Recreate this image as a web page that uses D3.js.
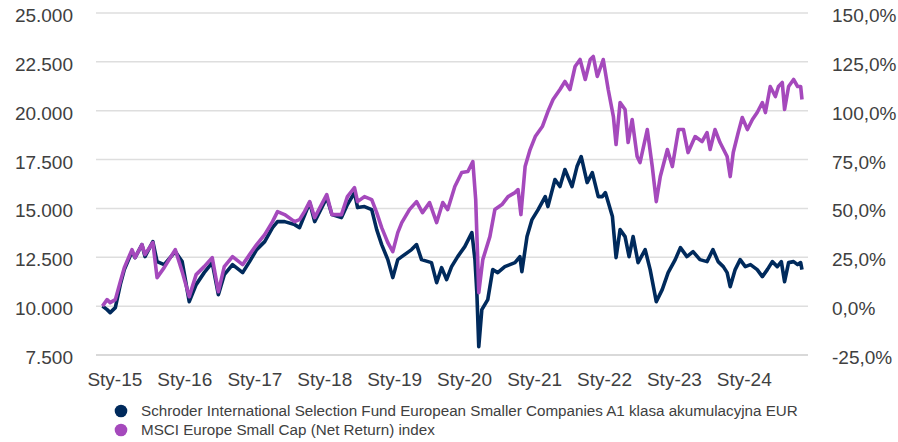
<!DOCTYPE html>
<html>
<head>
<meta charset="utf-8">
<script src="https://cdn.jsdelivr.net/npm/d3@7"></script>
<style>
  body { margin: 0; background: #fff; }
  svg { display: block; }
</style>
</head>
<body>
<div id="chart"></div>
<script>
// fund: Schroder ISF European Smaller Companies A1 acc EUR (growth of 10.000)
const fundDates = [
  "2014-10-31","2014-11-24","2014-12-10","2015-01-06","2015-02-01","2015-02-22","2015-04-03","2015-04-19",
  "2015-05-25","2015-06-10","2015-07-21","2015-08-12","2015-09-18","2015-11-15","2015-12-21","2016-01-27",
  "2016-03-03","2016-04-14","2016-05-26","2016-06-27","2016-07-28","2016-09-09","2016-11-01","2016-12-07",
  "2017-01-13","2017-02-24","2017-04-06","2017-05-02","2017-06-08","2017-07-30","2017-08-25","2017-10-17",
  "2017-11-12","2018-01-14","2018-02-10","2018-04-01","2018-05-02","2018-06-08","2018-06-24","2018-07-30",
  "2018-09-06","2018-10-02","2018-10-28","2018-11-29","2018-12-25","2019-01-20","2019-02-10","2019-04-02",
  "2019-04-28","2019-05-24","2019-07-15","2019-08-11","2019-09-06","2019-10-02","2019-10-28","2019-11-29",
  "2020-01-05","2020-02-11","2020-02-27","2020-03-08","2020-03-18","2020-04-03","2020-05-04","2020-05-30",
  "2020-06-25","2020-08-01","2020-09-23","2020-10-19","2020-10-29","2020-11-25","2020-12-21","2021-01-22",
  "2021-02-28","2021-03-14","2021-04-20","2021-05-16","2021-06-11","2021-07-18","2021-08-13","2021-09-04",
  "2021-10-05","2021-11-01","2021-12-02","2021-12-23","2022-01-08","2022-02-14","2022-03-05","2022-03-26",
  "2022-04-21","2022-05-12","2022-06-02","2022-06-28","2022-08-04","2022-08-30","2022-10-01","2022-11-01",
  "2022-12-02","2023-01-08","2023-02-04","2023-03-10","2023-04-11","2023-05-17","2023-06-23","2023-07-24",
  "2023-08-20","2023-09-16","2023-10-06","2023-10-22","2023-11-17","2023-12-13","2024-01-09","2024-02-05",
  "2024-03-11","2024-04-07","2024-05-03","2024-05-29","2024-06-24","2024-07-15","2024-08-01","2024-08-22",
  "2024-09-17","2024-10-08","2024-10-24","2024-10-31"
];
const fundValues = [
  10000, 9821, 9667, 9923, 11101, 11869, 12790, 12483,
  13149, 12534, 13302, 12278, 12125, 12790, 12278, 10230,
  11101, 11715, 12227, 10589, 11613, 12125, 11715, 12278,
  12893, 13302, 14019, 14326, 14326, 14173, 14019, 15299,
  14326, 15555, 14685, 14531, 15197, 15811, 15043, 15094,
  14941, 13917, 13149, 12381, 11459, 12381, 12534, 12893,
  13149, 12381, 12227, 11203, 11971, 11357, 12022, 12534,
  13046, 13763, 12381, 10691, 7926, 9821, 10333, 11869,
  11715, 12022, 12227, 12534, 11766, 13558, 14429, 14941,
  15606, 15094, 16477, 16118, 16989, 16118, 17142, 17654,
  16323, 16835, 15606, 15606, 15810, 14583, 12483, 13917,
  13558, 12534, 13558, 12227, 12893, 11869, 10230, 10845,
  11715, 12381, 12995, 12534, 12790, 12381, 12278, 12893,
  12278, 12022, 11715, 10998, 11869, 12381, 12022, 12125,
  11869, 11510, 11869, 12278, 12022, 12278, 11254, 12227,
  12278, 12125, 12227, 11869
];

// benchmark: MSCI Europe Small Cap (Net Return)
const indexDates = [
  "2014-10-31","2014-11-24","2014-12-10","2015-01-06","2015-02-01","2015-02-22","2015-04-03","2015-04-19",
  "2015-05-25","2015-06-10","2015-07-21","2015-08-12","2015-09-18","2015-11-15","2015-12-21","2016-01-27",
  "2016-03-03","2016-04-14","2016-05-26","2016-06-27","2016-07-28","2016-09-09","2016-11-01","2016-12-07",
  "2017-01-13","2017-02-24","2017-04-06","2017-05-02","2017-06-08","2017-07-30","2017-08-25","2017-09-20",
  "2017-10-17","2017-11-12","2018-01-14","2018-02-10","2018-04-01","2018-05-02","2018-06-08","2018-06-24",
  "2018-07-30","2018-09-06","2018-10-02","2018-10-28","2018-11-29","2018-12-25","2019-01-20","2019-02-10",
  "2019-03-22","2019-04-28","2019-05-29","2019-07-05","2019-08-11","2019-09-12","2019-10-08","2019-11-14",
  "2019-12-20","2020-01-21","2020-02-16","2020-03-02","2020-03-18","2020-04-08","2020-05-15","2020-06-10",
  "2020-07-17","2020-08-18","2020-09-23","2020-10-09","2020-10-24","2020-11-15","2020-12-11","2021-01-07",
  "2021-02-13","2021-03-14","2021-04-10","2021-05-16","2021-06-11","2021-07-07","2021-08-03","2021-08-29",
  "2021-09-25","2021-10-21","2021-11-06","2021-11-27","2021-12-28","2022-01-23","2022-02-19","2022-03-05",
  "2022-03-26","2022-04-21","2022-05-07","2022-05-28","2022-06-23","2022-07-08","2022-08-15","2022-09-10",
  "2022-10-01","2022-10-22","2022-11-28","2022-12-24","2023-01-25","2023-02-20","2023-03-16","2023-04-22",
  "2023-05-28","2023-06-23","2023-07-09","2023-08-04","2023-08-30","2023-10-06","2023-10-22","2023-11-07",
  "2023-12-03","2023-12-24","2024-01-20","2024-02-15","2024-03-11","2024-04-07","2024-04-23","2024-05-18",
  "2024-06-14","2024-06-30","2024-07-20","2024-08-01","2024-08-22","2024-09-17","2024-10-08","2024-10-24",
  "2024-10-31"
];
const indexValues = [
  10000, 10333, 10179, 10333, 11254, 11971, 12893, 12483,
  13149, 12637, 13251, 11459, 11971, 12893, 11766, 10486,
  11613, 12022, 12483, 10742, 12022, 12534, 12125, 12637,
  13149, 13661, 14326, 14838, 14685, 14326, 14429, 14838,
  15350, 14531, 15709, 14685, 14685, 15606, 16067, 15350,
  15606, 15453, 14787, 14019, 13251, 12790, 13763, 14275,
  14941, 15350, 14787, 15299, 14275, 15299, 14941, 16118,
  16835, 16886, 17398, 15453, 10691, 12381, 13558, 14941,
  15197, 15606, 15811, 15965, 14685, 17142, 18013, 18678,
  19190, 19958, 20573, 21085, 21494, 21085, 22262, 22621,
  21597, 22621, 22774, 21750, 22621, 21085, 19702, 18269,
  20419, 20061, 18371, 19549, 17654, 17347, 19037, 17142,
  15350, 16630, 18013, 17142, 19037, 19037, 17859, 18678,
  18422, 18883, 18013, 19037, 18371, 17654, 16630, 17859,
  18883, 19651, 19037, 19549, 19907, 20419, 19907, 21238,
  20726, 21238, 21443, 20061, 21238, 21597, 21238, 21238,
  20573
];

const leftTicks = [7500, 10000, 12500, 15000, 17500, 20000, 22500, 25000];
const rightTicks = [-0.25, 0, 0.25, 0.5, 0.75, 1.0, 1.25, 1.5];
const yearTicks = [2015, 2016, 2017, 2018, 2019, 2020, 2021, 2022, 2023, 2024];

const seriesNames = [
  "Schroder International Selection Fund European Smaller Companies A1 klasa akumulacyjna EUR",
  "MSCI Europe Small Cap (Net Return) index"
];
const seriesColors = ["#002a5c", "#a549bc"];

const width = 898, height = 442;
const plotLeft = 96, plotRight = 808, plotTop = 13, plotBottom = 355;
const textColor = "#404040";
const fontFamily = "'Liberation Sans', Arial, sans-serif";

const parse = d3.timeParse("%Y-%m-%d");
const fund = fundDates.map((d, i) => ({ date: parse(d), value: fundValues[i] }));
const bench = indexDates.map((d, i) => ({ date: parse(d), value: indexValues[i] }));

const locale = d3.formatLocale({ decimal: ",", thousands: ".", grouping: [3], currency: ["", " €"], minus: "-" });

const svg = d3.select("#chart")
  .append("svg")
  .attr("width", width)
  .attr("height", height);

const x = d3.scaleTime()
  .domain([parse("2014-10-31"), parse("2024-10-31")])
  .range([102.5, 802]);

const y = d3.scaleLinear()
  .domain([7500, 25000])
  .range([plotBottom, plotTop]);

const yRight = d3.scaleLinear()
  .domain([-0.25, 1.5])
  .range([plotBottom, plotTop]);

// grid
svg.append("g")
  .selectAll("line")
  .data(leftTicks)
  .enter()
  .append("line")
  .attr("x1", plotLeft)
  .attr("x2", plotRight)
  .attr("y1", d => y(d))
  .attr("y2", d => y(d))
  .attr("stroke", d => d === 7500 ? "#cccccc" : "#dedede")
  .attr("stroke-width", 1.5);

// left axis
const leftAxis = svg.append("g")
  .attr("transform", `translate(${plotLeft},0)`)
  .call(d3.axisLeft(y).tickValues(leftTicks).tickSize(0).tickPadding(23).tickFormat(locale.format(",.0f")));

// right axis
const rightAxis = svg.append("g")
  .attr("transform", `translate(${plotRight},0)`)
  .call(d3.axisRight(yRight).tickValues(rightTicks).tickSize(0).tickPadding(24).tickFormat(locale.format(".1%")));

// bottom axis
const bottomAxis = svg.append("g")
  .attr("transform", `translate(0,${plotBottom})`)
  .call(d3.axisBottom(x)
    .tickValues(yearTicks.map(yr => new Date(yr, 0, 1)))
    .tickSize(0)
    .tickPadding(17.5)
    .tickFormat(d => "Sty-" + String(d.getFullYear()).slice(2)));

[leftAxis, rightAxis, bottomAxis].forEach(a => {
  a.select(".domain").remove();
  a.selectAll("text")
    .style("font-family", fontFamily)
    .style("font-size", "19px")
    .attr("fill", textColor);
});
leftAxis.selectAll("text").attr("dy", "0.45em");
rightAxis.selectAll("text").attr("dy", "0.45em");

// lines
const line = d3.line()
  .x(d => x(d.date))
  .y(d => y(d.value));

svg.append("path")
  .datum(fund)
  .attr("d", line)
  .attr("fill", "none")
  .attr("stroke", seriesColors[0])
  .attr("stroke-width", 3.6)
  .attr("stroke-linejoin", "round");

svg.append("path")
  .datum(bench)
  .attr("d", line)
  .attr("fill", "none")
  .attr("stroke", seriesColors[1])
  .attr("stroke-width", 3.6)
  .attr("stroke-linejoin", "round");

// legend
const legend = svg.append("g")
  .attr("transform", "translate(121,411)");

const legendItem = legend.selectAll(".legend-item")
  .data(seriesNames)
  .enter()
  .append("g")
  .attr("class", "legend-item")
  .attr("transform", (d, i) => `translate(0, ${i * 19})`);

legendItem.append("circle")
  .attr("r", 6.3)
  .attr("fill", (d, i) => seriesColors[i]);

legendItem.append("text")
  .attr("x", 20)
  .attr("y", 5.3)
  .text(d => d)
  .style("font-family", fontFamily)
  .style("font-size", "15.2px")
  .attr("fill", textColor);
</script>
</body>
</html>
